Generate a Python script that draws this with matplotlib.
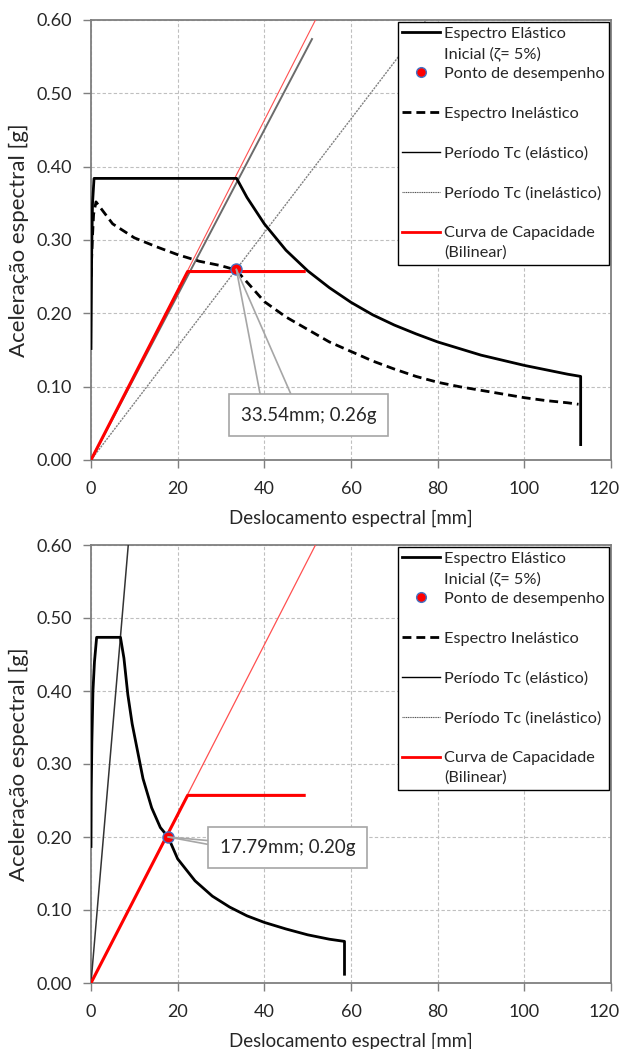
import matplotlib
matplotlib.use("Agg")
import matplotlib.pyplot as plt
from matplotlib.lines import Line2D

plt.rcParams['font.family'] = ['Lato', 'DejaVu Sans']

# ---------------- data (top chart) ----------------
el1_x = [0, 0.15, 0.35, 0.7, 33.6, 36, 40, 45, 50, 55, 60, 65, 70, 75, 80, 85, 90, 95, 100, 105, 110, 113, 113]
el1_y = [0.152, 0.28, 0.35, 0.384, 0.384, 0.358, 0.322, 0.286, 0.258, 0.235, 0.215, 0.198, 0.184, 0.172,
         0.161, 0.152, 0.143, 0.136, 0.129, 0.123, 0.117, 0.114, 0.021]
inel1_x = [0, 0.3, 0.6, 1.15, 5, 10, 15, 20, 25, 30, 33.5, 37, 40, 45, 50, 55, 60, 65, 70, 75, 80, 85,
           90, 95, 100, 105, 110, 112.5]
inel1_y = [0.25, 0.30, 0.335, 0.352, 0.322, 0.303, 0.291, 0.280, 0.271, 0.265, 0.259, 0.236, 0.216, 0.195,
           0.178, 0.161, 0.148, 0.135, 0.124, 0.114, 0.106, 0.100, 0.095, 0.090, 0.085, 0.081, 0.078, 0.076]
tc_el1_x = [0, 51.0]
tc_el1_y = [0, 0.574]
tc_inel1_x = [0, 77.4]
tc_inel1_y = [0, 0.60]
perf1 = (33.54, 0.26)
perf1_label = "33.54mm; 0.26g"

# ---------------- data (bottom chart) ----------------
el2_x = [0, 0.05, 0.2, 0.45, 0.8, 1.3, 6.8, 7.6, 8.5, 9.5, 10.5, 12, 14, 16, 17.8, 20, 24, 28, 32, 36,
         40, 45, 50, 55, 58.5, 58.5]
el2_y = [0.187, 0.26, 0.33, 0.40, 0.44, 0.4735, 0.4735, 0.445, 0.395, 0.355, 0.325, 0.280, 0.240, 0.213,
         0.200, 0.170, 0.140, 0.119, 0.104, 0.092, 0.083, 0.074, 0.066, 0.060, 0.057, 0.012]
tc_el2_x = [0, 8.6]
tc_el2_y = [0, 0.60]
perf2 = (17.79, 0.20)
perf2_label = "17.79mm; 0.20g"

# capacity curve (same in both)
cap_x = [0, 22.3, 49.2]
cap_y = [0, 0.257, 0.257]
cap_init_x = [0, 51.8]
cap_init_y = [0, 0.60]

xticks = [0, 20, 40, 60, 80, 100, 120]
yticks = [0.0, 0.1, 0.2, 0.3, 0.4, 0.5, 0.6]

W, H = 622, 1049
fig = plt.figure(figsize=(W / 100, H / 100), dpi=100)
ax1 = fig.add_axes([91 / W, 1 - 460 / H, 520 / W, 440 / H])
ax2 = fig.add_axes([91 / W, 1 - 983 / H, 520 / W, 438 / H])

SPINE = '#7f7f7f'
TXT = '#262626'
RED = '#ff0000'
FS = 13
TLEN, TPAD = 6, 9


def style(ax):
    ax.set_xlim(0, 120)
    ax.set_ylim(0, 0.6)
    ax.set_xticks(xticks)
    ax.set_yticks(yticks)
    # last x tick label drawn separately so it stays inside the figure
    ax.set_xticklabels([str(v) for v in xticks[:-1]] + [""])
    ax.annotate(str(xticks[-1]), xy=(1, 0), xycoords='axes fraction',
                xytext=(6.5, -(TLEN + TPAD)), textcoords='offset points',
                ha='right', va='top', fontsize=FS, color=TXT)
    ax.set_yticklabels([f"{v:.2f}" for v in yticks])
    ax.grid(True, color='#bfbfbf', linestyle=(0, (3, 2)), linewidth=0.8)
    ax.set_axisbelow(True)
    for s in ax.spines.values():
        s.set_color(SPINE)
        s.set_linewidth(1.3)
    ax.tick_params(direction='out', length=TLEN, width=1.0, color=SPINE, labelsize=FS,
                   labelcolor=TXT, pad=TPAD)
    ax.tick_params(axis='y', pad=8)
    ax.set_xlabel("Deslocamento espectral [mm]", fontsize=13.4, color=TXT, labelpad=9)
    ax.set_ylabel("Aceleração espectral [g]", fontsize=16, color=TXT, labelpad=5)


def legend(ax):
    blank = Line2D([], [], linestyle='none')
    handles = [
        Line2D([], [], color='black', lw=2),
        blank,
        Line2D([], [], ls='none', marker='o', ms=7, mfc=RED, mec='#4472c4', mew=1),
        blank,
        Line2D([], [], color='black', lw=2, ls=(0, (3.2, 1.8))),
        blank,
        Line2D([], [], color='black', lw=1),
        blank,
        Line2D([], [], color='#555555', lw=0.8, ls=(0, (1, 0.6))),
        blank,
        Line2D([], [], color=RED, lw=2),
        blank,
    ]
    labels = ["Espectro Elástico", "Inicial (ζ= 5%)", "Ponto de desempenho", " ",
              "Espectro Inelástico", " ", "Período Tc (elástico)", " ",
              "Período Tc (inelástico)", " ", "Curva de Capacidade", "(Bilinear)"]
    leg = ax.legend(handles, labels, loc='upper right', bbox_to_anchor=(1.0, 1.0),
                    borderaxespad=0.1, fancybox=False, framealpha=1, edgecolor='black',
                    fontsize=11.7, labelspacing=0.34, handlelength=2.3, handletextpad=0.25,
                    borderpad=0.3, labelcolor=TXT)
    leg.get_frame().set_linewidth(1.0)
    leg.set_zorder(10)


def perf(ax, pt, label, xytext, relposA, relposB):
    ax.plot([pt[0]], [pt[1]], ls='none', marker='o', ms=8, mfc=RED, mec='#4472c4', mew=1, zorder=6)
    # two callout leader lines (Excel-style data callout), then the visible box on top
    for rp in (relposA, relposB):
        ax.annotate(label, xy=pt, xytext=xytext, textcoords='offset points', fontsize=13.5,
                    color='none', ha='center', va='center', zorder=6.5,
                    bbox=dict(boxstyle='square,pad=0.65', fc='none', ec='none'),
                    arrowprops=dict(arrowstyle='-', color='#a6a6a6', lw=1.2, relpos=rp,
                                    shrinkA=0, shrinkB=0))
    ax.annotate(label, xy=pt, xytext=xytext, textcoords='offset points', fontsize=13.5,
                color=TXT, ha='center', va='center', zorder=7,
                bbox=dict(boxstyle='square,pad=0.65', fc='white', ec='#a6a6a6', lw=1.2))


# ---------------- top chart ----------------
style(ax1)
ax1.plot(cap_init_x, cap_init_y, color='#ff5050', lw=0.8, zorder=3)
ax1.plot(tc_el1_x, tc_el1_y, color='#6b6b6b', lw=1.4, zorder=3)
ax1.plot(tc_inel1_x, tc_inel1_y, color='#808080', lw=1.0, ls=(0, (1.5, 0.8)), zorder=3)
ax1.plot(el1_x, el1_y, color='black', lw=2, zorder=4)
ax1.plot(inel1_x, inel1_y, color='black', lw=2, ls=(0, (3.2, 1.8)), zorder=4)
ax1.plot(cap_x, cap_y, color=RED, lw=2.2, zorder=5)
perf(ax1, perf1, perf1_label, (52, -105), (0.16, 1.0), (0.41, 1.0))
legend(ax1)

# ---------------- bottom chart ----------------
style(ax2)
ax2.plot(cap_init_x, cap_init_y, color='#ff5050', lw=0.9, zorder=3)
ax2.plot(tc_el2_x, tc_el2_y, color='#333333', lw=1.1, zorder=3)
ax2.plot(el2_x, el2_y, color='black', lw=2, zorder=4)
ax2.plot(cap_x, cap_y, color=RED, lw=2.2, zorder=5)
perf(ax2, perf2, perf2_label, (86, -7.6), (0.0, 0.85), (0.0, 0.56))
legend(ax2)

fig.savefig("out.png", dpi=100)
